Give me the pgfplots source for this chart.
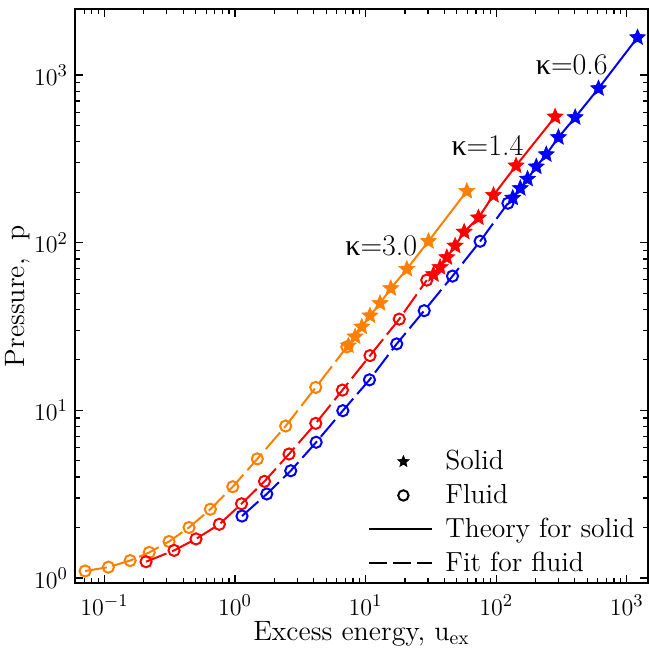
\documentclass[border=0pt]{standalone}
\usepackage{fontspec}
\usepackage{pgfplots}
\pgfplotsset{compat=1.18}
\newfontfamily\grk{Liberation Serif}
\definecolor{korange}{RGB}{255,128,0}

% filled five-pointed star
\pgfdeclareplotmark{fstar}{%
  \pgfpathmoveto{\pgfpointpolar{90}{\pgfplotmarksize}}%
  \pgfpathlineto{\pgfpointpolar{126}{0.45\pgfplotmarksize}}%
  \pgfpathlineto{\pgfpointpolar{162}{\pgfplotmarksize}}%
  \pgfpathlineto{\pgfpointpolar{198}{0.45\pgfplotmarksize}}%
  \pgfpathlineto{\pgfpointpolar{234}{\pgfplotmarksize}}%
  \pgfpathlineto{\pgfpointpolar{270}{0.45\pgfplotmarksize}}%
  \pgfpathlineto{\pgfpointpolar{306}{\pgfplotmarksize}}%
  \pgfpathlineto{\pgfpointpolar{342}{0.45\pgfplotmarksize}}%
  \pgfpathlineto{\pgfpointpolar{18}{\pgfplotmarksize}}%
  \pgfpathlineto{\pgfpointpolar{54}{0.45\pgfplotmarksize}}%
  \pgfpathclose
  \pgfusepathqfillstroke}

\begin{document}
\begin{tikzpicture}
\begin{axis}[
  scale only axis,
  width=286.5pt, height=287pt,
  xmode=log, ymode=log,
  xmin=0.0594, xmax=1456,
  ymin=0.933, ymax=2477,
  xlabel={Excess energy, u$_{\mathrm{ex}}$},
  ylabel={Pressure,\ \ p},
  label style={font=\fontsize{14}{16}\selectfont},
  tick label style={font=\fontsize{13.2}{15}\selectfont},
  xticklabel style={yshift=-2.5pt},
  xlabel style={yshift=3.8pt},
  ylabel style={yshift=-4.5pt},
  tick align=inside,
  major tick length=4pt, minor tick length=2.5pt,
  axis line style={line width=0.9pt},
  every tick/.style={black, line width=0.6pt},
  legend style={
    at={(0.995,0.0)}, anchor=south east,
    draw=none, fill=none,
    font=\fontsize{13.8}{16}\selectfont,
    cells={anchor=west},
    row sep=1.8pt,
  },
  legend image code/.code={\draw[#1] (0cm,0cm) -- (1.1cm,0cm); \path (1.25cm,0cm);},
  markimg/.style={legend image code/.code={\draw[##1] plot coordinates {(0.6cm,0cm)}; \path (0cm,0cm) (1.25cm,0cm);}},
  fluid/.style={line width=1pt, dash pattern=on 11pt off 3pt, mark=o,
    mark size=2.8pt, mark options={solid, line width=1pt}},
  solid/.style={line width=1pt, mark=fstar, mark size=4.2pt,
    mark options={solid, line width=0.3pt}},
]

% legend entries
\addlegendimage{black, only marks, mark=fstar, mark size=3pt, mark options={line width=0.3pt}, markimg}
\addlegendentry{Solid}
\addlegendimage{black, only marks, mark=o, mark size=2.6pt, mark options={line width=1pt}, markimg}
\addlegendentry{Fluid}
\addlegendimage{black, line width=1pt}
\addlegendentry{Theory for solid}
\addlegendimage{black, line width=1pt, dash pattern=on 9pt off 3pt}
\addlegendentry{Fit for fluid}

% kappa = 3.0
\addplot[korange, fluid, forget plot] coordinates {
  (0.071,1.10) (0.107,1.16) (0.157,1.27) (0.220,1.42) (0.312,1.65)
  (0.444,2.00) (0.647,2.57) (0.96,3.50) (1.48,5.13) (2.44,8.06)
  (4.15,13.7) (7.18,23.9)
};
\addplot[korange, solid, forget plot] coordinates {
  (7.38,24.3) (8.31,27.5) (9.35,31.5) (10.8,36.7) (12.9,43.5)
  (15.6,53.4) (20.7,69.6) (30.3,102) (59.6,203)
};

% kappa = 1.4
\addplot[red, fluid, forget plot] coordinates {
  (0.208,1.25) (0.341,1.46) (0.502,1.71) (0.758,2.09) (1.12,2.77)
  (1.68,3.77) (2.59,5.49) (4.15,8.36) (6.64,13.2) (10.8,21.2)
  (18.1,35.0) (29.4,59.8)
};
\addplot[red, solid, forget plot] coordinates {
  (33.1,64.7) (37.2,71.3) (41.9,81.7) (48.5,95.8) (56.9,116)
  (73.2,141) (95.4,192) (142,288) (283,564)
};

% kappa = 0.6
\addplot[blue, fluid, forget plot] coordinates {
  (1.13,2.34) (1.75,3.17) (2.67,4.36) (4.18,6.45) (6.69,9.95)
  (10.7,15.2) (17.3,24.9) (28.1,39.3) (46.3,63.2) (75.4,102)
  (123,172)
};
\addplot[blue, solid, forget plot] coordinates {
  (134,185) (153,211) (174,240) (203,284) (242,336)
  (300,425) (403,559) (608,832) (1211,1676)
};

\node[font=\fontsize{15}{17}\selectfont] at (axis cs:380,1145) {{\grk κ}=0.6};
\node[font=\fontsize{15}{17}\selectfont] at (axis cs:85.8,382) {{\grk κ}=1.4};
\node[font=\fontsize{15}{17}\selectfont] at (axis cs:13.2,95.4) {{\grk κ}=3.0};

\end{axis}
% fix the page to the reference proportions
\pgfresetboundingbox
\path[use as bounding box] (-37.5pt,-33.5pt) rectangle (287pt,291.5pt);
\end{tikzpicture}
\end{document}
